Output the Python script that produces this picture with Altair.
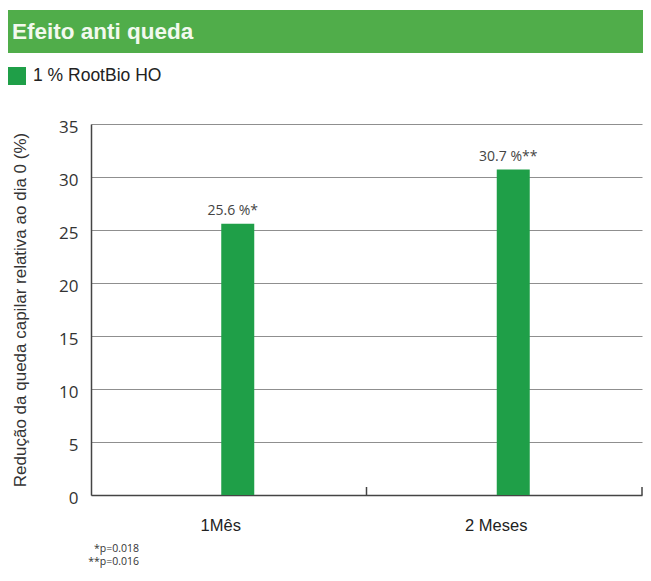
import altair as alt
import pandas as pd

title_text = ["Efeito anti queda"]
series_name = ["1 % RootBio HO"]
categories = ["1Mês", "2 Meses"]
values = [25.6, 30.7]
value_labels = ["25.6 %*", "30.7 %**"]
y_ticks = [0, 5, 10, 15, 20, 25, 30, 35]
footnotes = ["*p=0.018", "**p=0.016"]
y_title = "Redução da queda capilar relativa ao dia 0 (%)"

W, H = 551, 371
COND = "Liberation Sans"
NUM = "Open Sans"
BAR_GREEN = "#1f9f48"
HEAD_GREEN = "#50ad4a"

bars_df = pd.DataFrame({
    "cat": categories,
    "val": values,
    "lbl": value_labels,
    "serie": series_name * len(categories),
})

x_axis = alt.Axis(
    title=None, labelAngle=0, ticks=False, labelPadding=22, labelOffset=-8,
    labelFont=COND, labelFontSize=16.5, labelColor="#222",
    domainColor="#444", domainWidth=1.5,
)
x_scale = alt.Scale(paddingInner=0, paddingOuter=0)
y_axis = alt.Axis(
    values=y_ticks, title=y_title, ticks=False, labelPadding=13, labelOffset=3,
    labelFont=NUM, labelFontSize=17, labelColor="#333",
    grid=True, gridColor="#8f8f8f", gridWidth=1,
    domainColor="#444", domainWidth=1.5,
    titleFont=COND, titleFontSize=17, titleFontWeight="normal", titleColor="#333",
    titleX=-71, titleY=H / 2, titleAngle=-90, titleAlign="center", titleBaseline="middle",
)
y_scale = alt.Scale(domain=[0, 35], nice=False)


def xe(**kw):
    return alt.X("cat:N", sort=categories, scale=x_scale, axis=x_axis, **kw)


def ye():
    return alt.Y("val:Q", scale=y_scale, axis=y_axis)


bars = alt.Chart(bars_df).mark_bar(size=33, xOffset=9).encode(
    x=xe(),
    y=ye(),
    color=alt.Color(
        "serie:N",
        scale=alt.Scale(domain=series_name, range=[BAR_GREEN]),
        legend=alt.Legend(
            orient="none", legendX=-83, legendY=-57, title=None,
            symbolType="square", symbolSize=324, symbolStrokeWidth=0,
            labelFont=COND, labelFontSize=17.5, labelColor="#222", labelOffset=7,
            padding=0,
        ),
    ),
)

labels = alt.Chart(bars_df).mark_text(
    baseline="alphabetic", dy=-9, dx=4, font=NUM, fontSize=14, color="#444"
).encode(
    x=xe(),
    y=ye(),
    text="lbl:N",
)

ticks = alt.Chart(bars_df).mark_rule(color="#444", strokeWidth=1.5).encode(
    x=xe(bandPosition=1),
    y=alt.value(H - 8),
    y2=alt.value(H),
)

head_df = pd.DataFrame({"t": title_text})
head_rect = alt.Chart(head_df).mark_rect(color=HEAD_GREEN).encode(
    x=alt.value(-83), x2=alt.value(W + 1), y=alt.value(-114), y2=alt.value(-71)
)
head_text = alt.Chart(head_df).mark_text(
    align="left", baseline="alphabetic", font=COND, fontSize=22.5,
    fontWeight="bold", color="#f2f9ee",
).encode(x=alt.value(-79), y=alt.value(-85), text="t:N")

foot_layers = []
for i, note in enumerate(footnotes):
    foot_layers.append(
        alt.Chart(pd.DataFrame({"t": [note]})).mark_text(
            align="right", baseline="middle", font=NUM, fontSize=10.5, color="#333",
        ).encode(x=alt.value(48), y=alt.value(425 + 13 * i), text="t:N")
    )

chart = alt.layer(bars, labels, ticks, head_rect, head_text, *foot_layers).properties(
    width=W, height=H,
    autosize=alt.AutoSizeParams(type="none"),
    padding={"left": 83, "top": 116, "right": 1, "bottom": 78},
    background="white",
).configure_view(stroke=None)

chart.save("out.html", embed_options={"renderer": "svg", "actions": False})
